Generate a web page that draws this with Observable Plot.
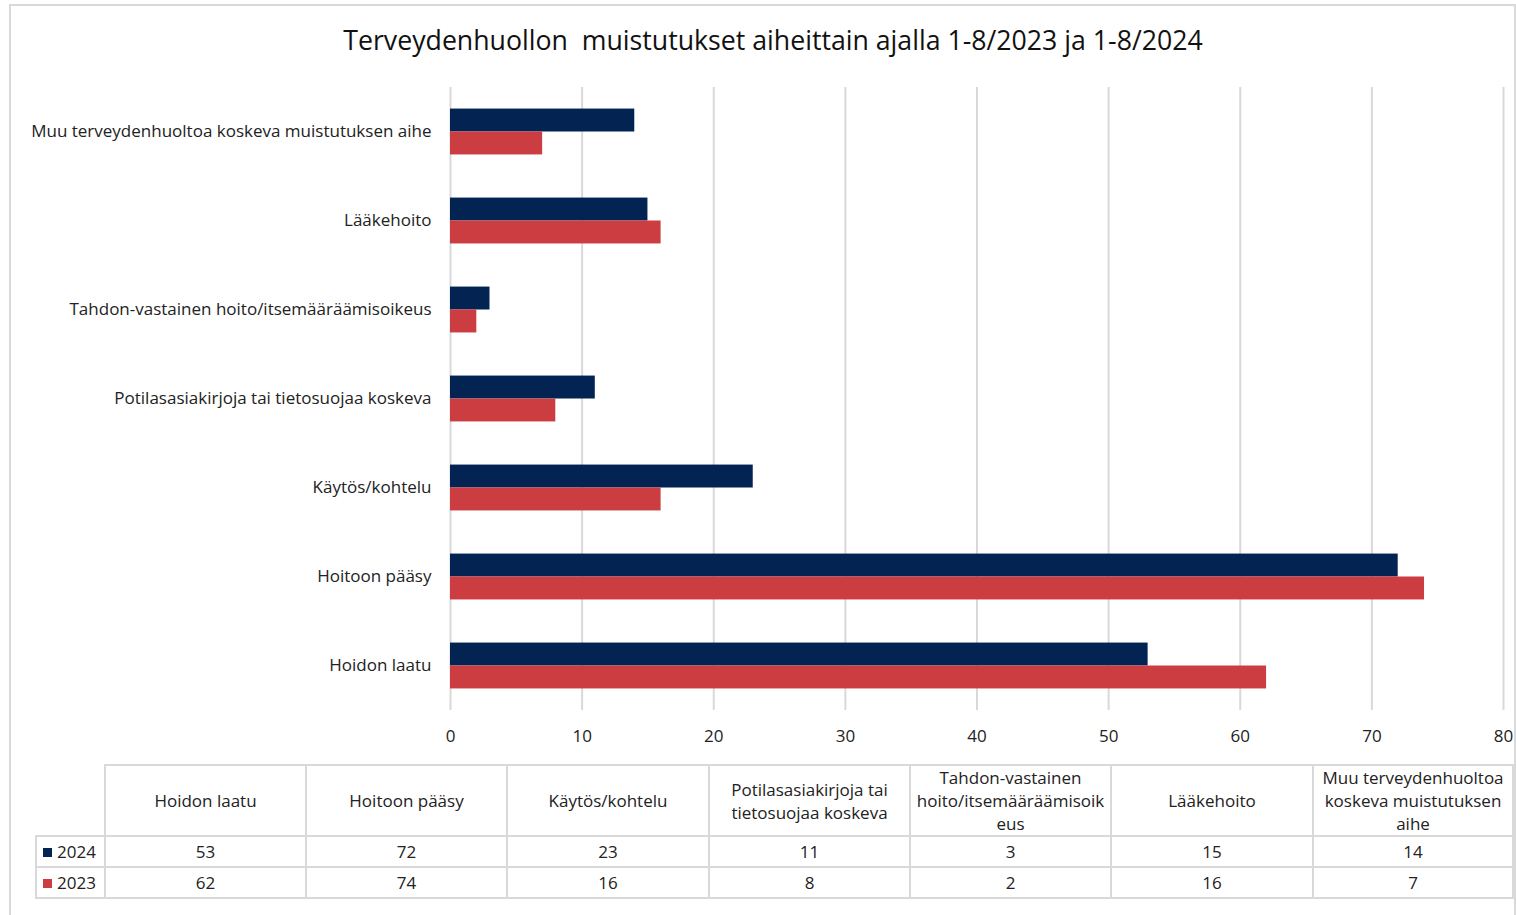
<!DOCTYPE html>
<html>
<head>
<meta charset="utf-8">
<script src="https://cdn.jsdelivr.net/npm/d3@7"></script>
<script src="https://cdn.jsdelivr.net/npm/@observablehq/plot@0.6"></script>
<style>
  html, body { margin:0; padding:0; background:#fff; }
  body { width:1516px; height:915px; overflow:hidden; position:relative; font-family: "Open Sans", sans-serif; color:#222; }
  #frame { position:absolute; left:9px; top:4px; width:1507px; height:930px; border:2px solid #d9d9d9; box-sizing:border-box; }
  #title { position:absolute; left:0; width:1546px; top:21px; text-align:center; font-size:26.7px; color:#111; white-space:pre; }
  #chart { position:absolute; left:0; top:0; }
  #tbl { position:absolute; left:35px; top:764px; border-collapse:collapse; font-size:17px; color:#222; }
  #tbl td { border:2px solid #d9d9d9; text-align:center; padding:0 3px; line-height:23px; box-sizing:border-box; overflow-wrap:anywhere; }
  #tbl td.blank { border:none; border-bottom:2px solid #d9d9d9; }
  #tbl td.leg { text-align:left; padding-left:6px; white-space:nowrap; }
  .sw { display:inline-block; width:9px; height:9px; margin-right:5px; vertical-align:middle; position:relative; top:-1px; }
</style>
</head>
<body>
<div id="frame"></div>
<div id="title">Terveydenhuollon  muistutukset aiheittain ajalla 1-8/2023 ja 1-8/2024</div>
<div id="chart"></div>
<table id="tbl"></table>
<script>
const categories = [
  "Hoidon laatu",
  "Hoitoon pääsy",
  "Käytös/kohtelu",
  "Potilasasiakirjoja tai tietosuojaa koskeva",
  "Tahdon-vastainen hoito/itsemääräämisoikeus",
  "Lääkehoito",
  "Muu terveydenhuoltoa koskeva muistutuksen aihe"
];
const years = ["2024", "2023"];
const values2024 = [53, 72, 23, 11, 3, 15, 14];
const values2023 = [62, 74, 16, 8, 2, 16, 7];
const xTicks = [0, 10, 20, 30, 40, 50, 60, 70, 80];
const colors = ["#032352", "#CC3D42"];

const series = {"2024": values2024, "2023": values2023};
const data = [];
categories.forEach((c, i) => {
  years.forEach(y => data.push({category: c, year: y, value: series[y][i]}));
});

const fontFamily = '"Open Sans", sans-serif';

const chart = Plot.plot({
  width: 1516,
  height: 760,
  marginLeft: 450,
  marginRight: 13,
  marginTop: 86,
  marginBottom: 50,
  style: {fontSize: "17px", fontFamily, color: "#222", background: "transparent"},
  x: {domain: [0, 80], axis: null},
  fy: {domain: categories.slice().reverse(), padding: 0, label: null},
  y: {domain: years, axis: null, paddingInner: 0, paddingOuter: 0.94, round: false},
  color: {domain: years, range: colors},
  marks: [
    Plot.ruleX(xTicks, {x: d => d, stroke: "#d9d9d9", strokeWidth: 2}),
    Plot.barX(data, {x: "value", y: "year", fy: "category", fill: "year"}),
    Plot.axisX({ticks: xTicks, tickSize: 0, tickPadding: 19, label: null, anchor: "bottom", facetAnchor: "bottom", fill: "#222"}),
    Plot.axisFy({anchor: "left", tickSize: 0, tickPadding: 19, label: null, fill: "#222", lineWidth: Infinity})
  ]
});
document.getElementById("chart").appendChild(chart);

// data table
const tbl = document.getElementById("tbl");
const colW = [201, 201, 202, 201, 201, 202, 200];
const head = document.createElement("tr");
head.style.height = "71px";
const b = document.createElement("td");
b.className = "blank";
b.style.width = "69px";
head.appendChild(b);
categories.forEach((c, i) => {
  const td = document.createElement("td");
  td.textContent = c;
  td.style.width = colW[i] + "px";
  td.style.maxWidth = colW[i] + "px";
  head.appendChild(td);
});
tbl.appendChild(head);
years.forEach((y, k) => {
  const tr = document.createElement("tr");
  tr.style.height = "31px";
  const l = document.createElement("td");
  l.className = "leg";
  l.innerHTML = `<span class="sw" style="background:${colors[k]}"></span>${y}`;
  tr.appendChild(l);
  series[y].forEach(v => {
    const td = document.createElement("td");
    td.textContent = v;
    tr.appendChild(td);
  });
  tbl.appendChild(tr);
});
</script>
</body>
</html>
